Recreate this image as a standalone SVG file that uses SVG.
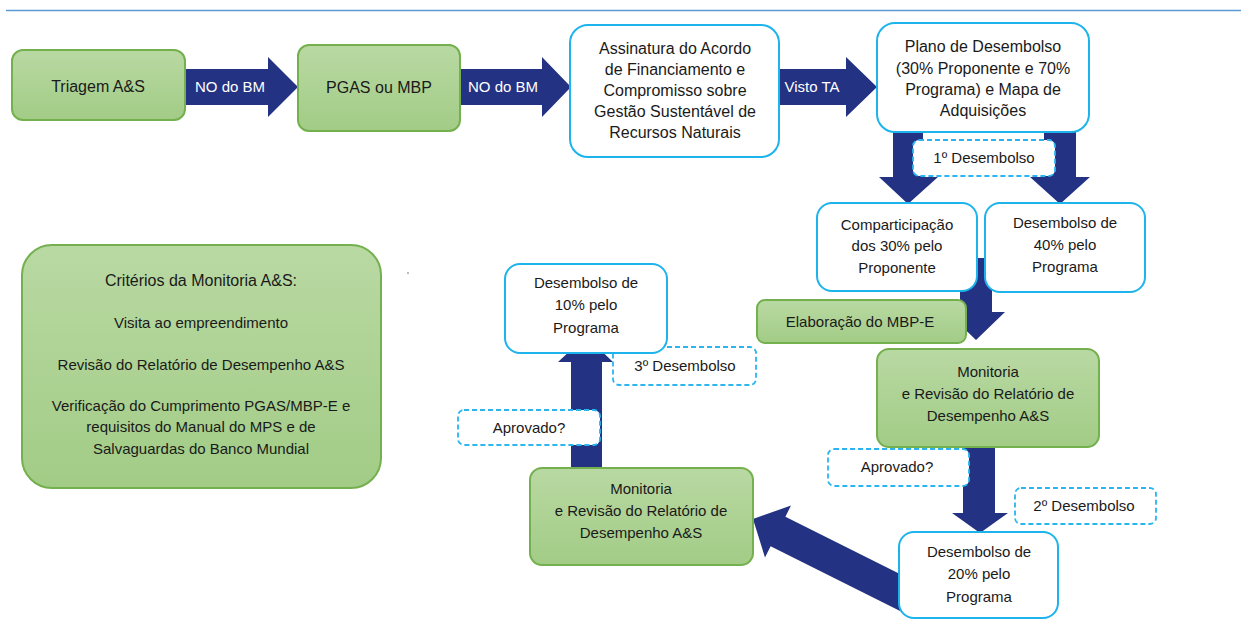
<svg xmlns="http://www.w3.org/2000/svg" width="1241" height="620" viewBox="0 0 1241 620">
<defs>
<linearGradient id="gg" x1="0" y1="0" x2="0" y2="1">
<stop offset="0" stop-color="#b9d9a3"/>
<stop offset="1" stop-color="#a2cc86"/>
</linearGradient>
<style>
.g{fill:url(#gg);stroke:#74b04e;stroke-width:2}
.w{fill:#fff;stroke:#1db3ec;stroke-width:2}
.d{fill:#fff;stroke:#2bb5ee;stroke-width:1.8;stroke-dasharray:5 3}
.a{fill:#233282}
text{font-family:"Liberation Sans",Arial,sans-serif;font-size:15px;fill:#1a1a1a;text-anchor:middle}
.t16{font-size:16px}
.wt{fill:#fff;font-size:15px}
</style>
</defs>
<rect width="1241" height="620" fill="#fff"/>
<line x1="6" y1="10.5" x2="1241" y2="10.5" stroke="#5b9bd5" stroke-width="1.3"/>
<circle cx="408" cy="273" r="0.9" fill="#9a9a9a"/>

<g id="connectors">
<g id="c1"><polygon class="a" points="185,69 268,69 268,57 298,87 268,117 268,105 185,105"/><text class="wt" x="230" y="92">NO do BM</text></g>
<g id="c2"><polygon class="a" points="460,69 542,69 542,57 571,87 542,117 542,105 460,105"/><text class="wt" x="503" y="92">NO do BM</text></g>
<g id="c3"><polygon class="a" points="779,69 846,69 846,57 877,87 846,117 846,105 779,105"/><text class="wt" x="812" y="92">Visto TA</text></g>
<polygon class="a" points="893,128 923,128 923,177 938,177 908,204 879,177 893,177"/>
<polygon class="a" points="1044,128 1076,128 1076,177 1090,177 1060,204 1030,177 1044,177"/>
<polygon class="a" points="960,258 992,258 992,312 1005,312 976,340 947,312 960,312"/>
<polygon class="a" points="963,445 995,445 995,513 1008,513 980,533 952,513 963,513"/>
<polygon class="a" points="919.4,583.8 785.4,516.7 791,505.5 753,519 765,557.5 770.6,546.3 904.6,613.2"/>
<polygon class="a" points="571,470 571,362 558,362 586,336 613,362 602,362 602,470"/>
</g>

<g id="n-triagem"><rect class="g" x="12" y="50" width="173" height="70" rx="11"/><text class="t16" x="98" y="92">Triagem A&amp;S</text></g>
<g id="n-pgas"><rect class="g" x="298" y="45" width="162" height="86" rx="11"/><text class="t16" x="379" y="93">PGAS ou MBP</text></g>
<g id="n-assinatura"><rect class="w" x="570" y="25" width="209" height="132" rx="18"/>
<text class="t16" x="675" y="54">Assinatura do Acordo</text>
<text class="t16" x="675" y="75">de Financiamento e</text>
<text class="t16" x="675" y="96">Compromisso sobre</text>
<text class="t16" x="675" y="117">Gestão Sustentável de</text>
<text class="t16" x="675" y="138">Recursos Naturais</text></g>
<g id="n-plano"><rect class="w" x="877" y="23" width="212" height="109" rx="18"/>
<text class="t16" x="983" y="52">Plano de Desembolso</text>
<text class="t16" x="983" y="74">(30% Proponente e 70%</text>
<text class="t16" x="983" y="95">Programa) e Mapa de</text>
<text class="t16" x="983" y="116">Adquisições</text></g>
<g id="n-1desemb"><rect class="d" x="913" y="140" width="142" height="36" rx="6"/><text x="984" y="163">1º Desembolso</text></g>
<g id="n-compart"><rect class="w" x="817" y="203" width="160" height="88" rx="15"/>
<text x="897" y="230">Comparticipação</text>
<text x="897" y="251">dos 30% pelo</text>
<text x="897" y="273">Proponente</text></g>
<g id="n-desemb40"><rect class="w" x="985" y="203" width="160" height="89" rx="15"/>
<text x="1065" y="228">Desembolso de</text>
<text x="1065" y="250">40% pelo</text>
<text x="1065" y="272">Programa</text></g>
<g id="n-elab"><rect class="g" x="757" y="300" width="209" height="43" rx="8"/><text x="860" y="327">Elaboração do MBP-E</text></g>
<g id="n-monit-r"><rect class="g" x="877" y="349" width="222" height="98" rx="12"/>
<text x="988" y="377">Monitoria</text>
<text x="988" y="399">e Revisão do Relatório de</text>
<text x="988" y="421">Desempenho A&amp;S</text></g>
<g id="n-aprov-r"><rect class="d" x="828" y="449" width="141" height="37" rx="6"/><text x="897" y="472">Aprovado?</text></g>
<g id="n-2desemb"><rect class="d" x="1015" y="488" width="141" height="36" rx="6"/><text x="1084" y="511">2º Desembolso</text></g>
<g id="n-desemb20"><rect class="w" x="899" y="532" width="159" height="86" rx="15"/>
<text x="979" y="557">Desembolso de</text>
<text x="979" y="579">20% pelo</text>
<text x="979" y="602">Programa</text></g>
<g id="n-monit-l"><rect class="g" x="530" y="468" width="223" height="97" rx="12"/>
<text x="641" y="494">Monitoria</text>
<text x="641" y="516">e Revisão do Relatório de</text>
<text x="641" y="538">Desempenho A&amp;S</text></g>
<g id="n-aprov-l"><rect class="d" x="458" y="410" width="142" height="35" rx="6"/><text x="529" y="433">Aprovado?</text></g>
<g id="n-3desemb"><rect class="d" x="613" y="347" width="143" height="38" rx="6"/><text x="685" y="371">3º Desembolso</text></g>
<g id="n-desemb10"><rect class="w" x="505" y="264" width="162" height="89" rx="15"/>
<text x="586" y="288">Desembolso de</text>
<text x="586" y="310">10% pelo</text>
<text x="586" y="333">Programa</text></g>
<g id="n-criterios"><rect class="g" x="22" y="245" width="359" height="243" rx="30"/>
<text class="t16" x="201" y="286">Critérios da Monitoria A&amp;S:</text>
<text x="201" y="328">Visita ao empreendimento</text>
<text x="201" y="370">Revisão do Relatório de Desempenho A&amp;S</text>
<text x="201" y="411">Verificação do Cumprimento PGAS/MBP-E e</text>
<text x="201" y="432">requisitos do Manual do MPS e de</text>
<text x="201" y="454">Salvaguardas do Banco Mundial</text></g>
</svg>
